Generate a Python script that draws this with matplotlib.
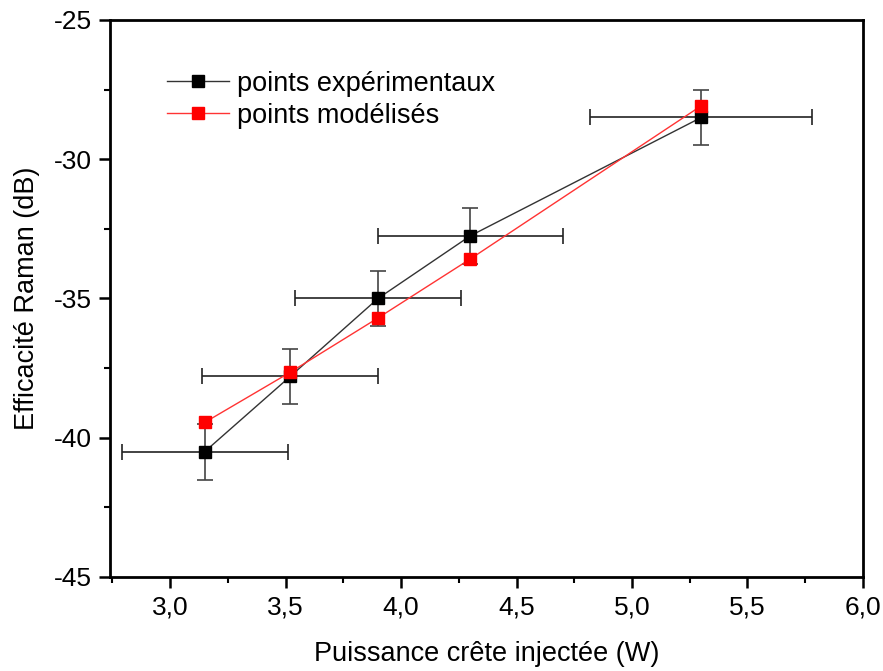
import matplotlib
matplotlib.use("Agg")
import matplotlib.pyplot as plt
from matplotlib.ticker import MultipleLocator, FuncFormatter

plt.rcParams['font.family'] = ['Liberation Sans', 'DejaVu Sans']

power = [3.15, 3.52, 3.90, 4.30, 5.30]
power_err = [0.36, 0.38, 0.36, 0.40, 0.48]
exp_eff = [-40.5, -37.8, -35.0, -32.75, -28.5]
exp_err = [1.0, 1.0, 1.0, 1.0, 1.0]
mod_eff = [-39.45, -37.65, -35.7, -33.58, -28.08]

labels = ["points expérimentaux", "points modélisés"]

fig = plt.figure(figsize=(8.83, 6.71), dpi=100)
ax = fig.add_axes([0.1246, 0.1401, 0.8527, 0.8301])

# error bars
ax.errorbar(power, exp_eff, yerr=exp_err, fmt='none', ecolor='#444444',
            elinewidth=1.2, capsize=6, capthick=1.2, zorder=2)
ax.errorbar(power, exp_eff, xerr=power_err, fmt='none', ecolor='#222222',
            elinewidth=1.2, capsize=6, capthick=1.2, zorder=2)

ax.plot(power, exp_eff, color='#333333', lw=1.0, marker='s', ms=8.5,
        mfc='black', mec='black', label=labels[0], zorder=3)
ax.plot(power, mod_eff, color='#ff3333', lw=1.0, marker='s', ms=8.5,
        mfc='#ff0000', mec='#ff0000', label=labels[1], zorder=4)

ax.set_xlim(2.74, 6.0)
ax.set_ylim(-45, -25)
ax.xaxis.set_major_locator(MultipleLocator(0.5))
ax.xaxis.set_minor_locator(MultipleLocator(0.25))
ax.yaxis.set_major_locator(MultipleLocator(5))
ax.yaxis.set_minor_locator(MultipleLocator(2.5))
ax.xaxis.set_major_formatter(FuncFormatter(lambda v, p: f"{v:.1f}".replace('.', ',')))
ax.yaxis.set_major_formatter(FuncFormatter(lambda v, p: f"{v:.0f}"))

ax.tick_params(which='major', direction='out', length=8, width=1.8, labelsize=19, pad=5)
ax.tick_params(which='minor', direction='out', length=4, width=1.5)
ax.tick_params(top=False, right=False)
for s in ax.spines.values():
    s.set_linewidth(2.0)

ax.set_xlabel("Puissance crête injectée (W)", fontsize=19.5, labelpad=16)
ax.set_ylabel("Efficacité Raman (dB)", fontsize=19.5, labelpad=10)

ax.legend(loc='upper left', bbox_to_anchor=(0.043, 0.953), frameon=False,
          fontsize=19.5, handlelength=2.3, handletextpad=0.3, labelspacing=0.22)

fig.savefig("out.png", dpi=100)
